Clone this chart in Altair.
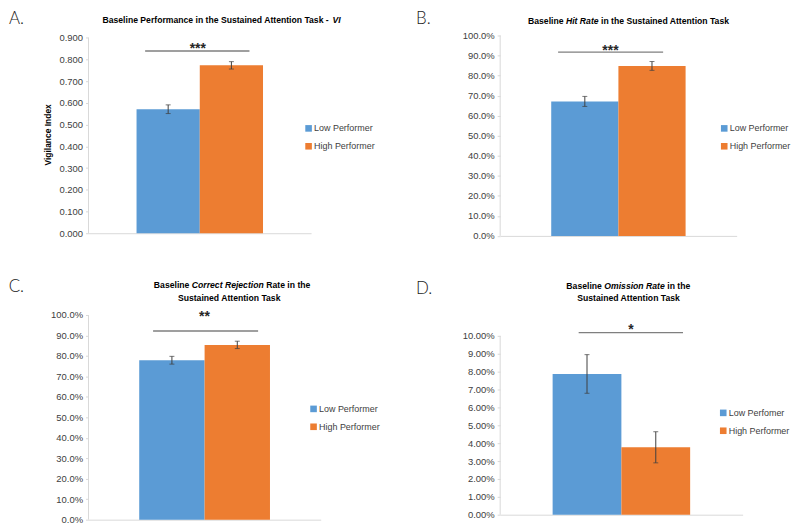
import altair as alt
import pandas as pd

# ---------------- data ----------------
groups = ["Low Performer", "High Performer"]
groups_d = ["Low Perfomer", "High Performer"]   # label as printed in panel D

vi_mean = [0.571, 0.773]
vi_err = [0.020, 0.017]

hit_mean = [0.671, 0.848]
hit_err = [0.025, 0.022]

cr_mean = [0.779, 0.854]
cr_err = [0.019, 0.018]

om_mean = [0.0787, 0.0377]
om_err = [0.0108, 0.0087]

ticks_vi = [round(0.1 * i, 1) for i in range(10)]
ticks_pct = [round(0.1 * i, 1) for i in range(11)]
ticks_om = [round(0.01 * i, 2) for i in range(11)]

BLUE = "#5B9BD5"
ORANGE = "#ED7D31"
AXIS = "#D9D9D9"
ERR = "#3F3F3F"
SIG = "#7F7F7F"
TXT = "#404040"
FONT = "Liberation Sans"
TSIZE = 8.7

# approximate advance widths (1/1000 em) of the bold sans face, for chaining title parts
CW = {' ': 278, '-': 333, 'A': 722, 'B': 722, 'C': 722, 'H': 722, 'I': 278, 'O': 778,
      'P': 667, 'R': 722, 'S': 667, 'T': 611, 'V': 667, 'a': 556, 'c': 556, 'd': 611,
      'e': 556, 'f': 333, 'h': 611, 'i': 278, 'j': 278, 'k': 556, 'l': 278, 'm': 889,
      'n': 611, 'o': 611, 'r': 389, 's': 556, 't': 333, 'u': 611}


def tw(s, size):
    return sum(CW.get(ch, 556) for ch in s) * size / 1000.0


def frame(labels, means, errs):
    return pd.DataFrame({
        "group": labels,
        "mean": means,
        "lo": [m - e for m, e in zip(means, errs)],
        "hi": [m + e for m, e in zip(means, errs)],
    })


ONE = alt.InlineData(values=[{"k": 1}])


def text_layer(txt, x, y, size, weight="bold", italic=False, align="left",
               color="#000000", baseline="middle", font=FONT):
    kw = dict(text=txt, fontSize=size, fontWeight=weight, align=align,
              baseline=baseline, color=color, font=font)
    if italic:
        kw["fontStyle"] = "italic"
    return alt.Chart(ONE).mark_text(**kw).encode(x=alt.value(x), y=alt.value(y))


def title_line(parts, center, y, size=TSIZE):
    texts = [p[0] for p in parts]
    widths = [tw(t, size) for t in texts]
    space = tw(" ", size)
    total = sum(widths) + space * (len(parts) - 1)
    x = center - total / 2.0
    layers = []
    for (t, it), w in zip(parts, widths):
        layers.append(text_layer(t, x, y, size, italic=it, align="left"))
        x += w + space
    return layers


def panel(labels, means, errs, ymax, ytop, tvals, fmt, w, h, po, ytitle,
          leg_x, leg_y, sig, star, letter, titles):
    df = frame(labels, means, errs)
    xenc = alt.X("group:N", sort=labels,
                 scale=alt.Scale(paddingInner=0, paddingOuter=po),
                 axis=alt.Axis(labels=False, ticks=False, title=None, grid=False,
                               domainColor=AXIS, domainWidth=1))
    yscale = alt.Scale(domain=[0, ymax], nice=False, zero=True)
    yaxis = alt.Axis(values=tvals, tickCount=len(tvals), format=fmt, domain=False,
                     grid=False, tickSize=3, tickColor=AXIS, labelFontSize=9.5,
                     labelColor=TXT, labelPadding=3, labelFont=FONT,
                     labelOverlap=False, labelFlush=False,
                     title=ytitle, titleFontSize=8.5, titleFontWeight="bold",
                     titleColor="#000000", titlePadding=6, titleFont=FONT)
    base = alt.Chart(df)
    bars = base.mark_bar().encode(
        x=xenc,
        y=alt.Y("mean:Q", scale=yscale, axis=yaxis),
        color=alt.Color("group:N", sort=labels,
                        scale=alt.Scale(domain=labels, range=[BLUE, ORANGE]),
                        legend=alt.Legend(orient="none", legendX=leg_x, legendY=leg_y,
                                          title=None, symbolType="square",
                                          symbolSize=44, symbolStrokeWidth=0,
                                          labelFontSize=9, labelColor=TXT,
                                          labelFont=FONT, rowPadding=8,
                                          labelOffset=1, padding=0)),
    )
    err = base.mark_rule(color=ERR, strokeWidth=1).encode(
        x=xenc, y=alt.Y("lo:Q", scale=yscale, axis=yaxis), y2="hi:Q")
    cap_lo = base.mark_tick(color=ERR, thickness=1, size=5).encode(
        x=xenc, y=alt.Y("lo:Q", scale=yscale, axis=yaxis))
    cap_hi = base.mark_tick(color=ERR, thickness=1, size=5).encode(
        x=xenc, y=alt.Y("hi:Q", scale=yscale, axis=yaxis))
    yline = alt.Chart(ONE).mark_rule(color=AXIS, strokeWidth=1).encode(
        x=alt.value(0),
        y=alt.YDatum(datum=0, scale=yscale, axis=yaxis),
        y2=alt.datum(ytop))
    sx1, sx2, sy = sig
    sigline = alt.Chart(ONE).mark_rule(color=SIG, strokeWidth=1.4).encode(
        x=alt.value(sx1), x2=alt.value(sx2),
        y=alt.YDatum(datum=sy, scale=yscale, axis=yaxis))
    stxt, stx, sty = star
    stars = text_layer(stxt, stx, sty, 14, align="center", color="#262626",
                       baseline="alphabetic")
    ltxt, lx, ly = letter
    let = text_layer(ltxt, lx, ly, 17, weight=300, color="#1A1A1A", font="Lato",
                     baseline="top")
    tl = []
    for parts, center, y in titles:
        tl += title_line(parts, center, y)
    return alt.layer(bars, yline, err, cap_lo, cap_hi, sigline, stars, let, *tl).properties(
        width=w, height=h)


pA = panel(groups, vi_mean, vi_err, 0.9 * 199 / 196.7, 0.9, ticks_vi, ".3f",
           224, 199, 0.76, "Vigilance Index", 217, 89,
           (57, 162, 0.839), ("***", 110, 18), ("A.", -80, -25),
           [([("Baseline Performance in the Sustained Attention Task -", False),
              ("VI", True)], 134, -15.5)])

pB = panel(groups, hit_mean, hit_err, 1.0, 1.0, ticks_pct, ".1%",
           238, 201.7, 0.76, None, 221, 89,
           (58.3, 164, 0.917), ("***", 111, 20), ("B.", -84.7, -25),
           [([("Baseline", False), ("Hit Rate", True),
              ("in the Sustained Attention Task", False)], 129.8, -14.3)])

pC = panel(groups, cr_mean, cr_err, 1.0, 1.0, ticks_pct, ".1%",
           233.7, 206, 0.776, None, 222, 90,
           (65, 170.7, 0.922), ("**", 116.7, 6), ("C.", -80.3, -36),
           [([("Baseline", False), ("Correct Rejection", True), ("Rate in the", False)],
             144.6, -30),
            ([("Sustained Attention Task", False)], 142.2, -17.5)])

pD = panel(groups_d, om_mean, om_err, 0.10 * 201 / 180, 0.10, ticks_om, ".2%",
           244, 201, 0.763, None, 220, 94,
           (79, 184, 0.1018), ("*", 131.6, 18.7), ("D.", -84.7, -34.5),
           [([("Baseline", False), ("Omission Rate", True), ("in the", False)],
             129.0, -29.5),
            ([("Sustained Attention Task", False)], 129.8, -17.2)])

chart = alt.concat(pA, pB, pC, pD, columns=2,
                   spacing={"row": 79.3, "column": 180.3}, bounds="flush").resolve_scale(
    color="independent", x="independent", y="independent").properties(
    padding={"left": 0, "top": 0, "right": 0, "bottom": 0}).configure(
    font=FONT).configure_view(stroke=None)

chart.save("out.html", embed_options={"renderer": "svg", "actions": False})
